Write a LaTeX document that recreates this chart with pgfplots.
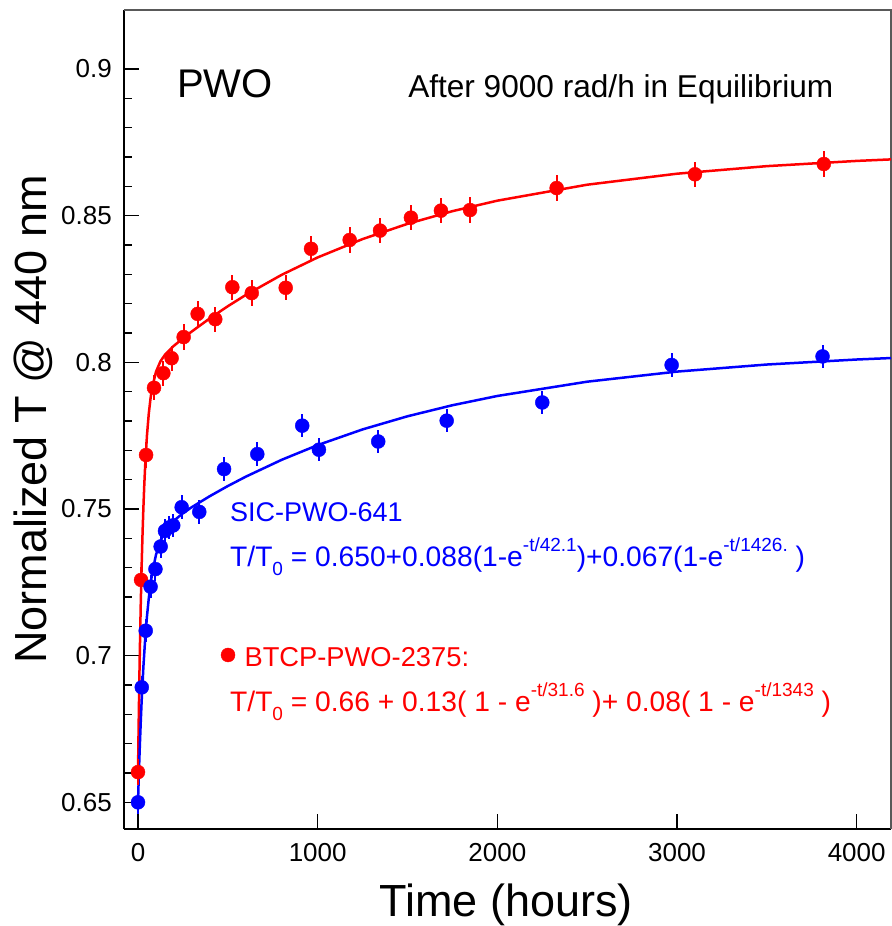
\documentclass[border=0pt]{standalone}
\usepackage{fontspec}
\setmainfont{Liberation Sans}
\usepackage{pgfplots}
\pgfplotsset{compat=1.18}
\newcommand\fs[1]{\fontsize{#1bp}{#1bp}\selectfont}
\newcommand\sups[1]{\raisebox{0.55em}{\fontsize{19bp}{19bp}\selectfont #1}}
\newcommand\subs[1]{\raisebox{-0.3em}{\fontsize{19bp}{19bp}\selectfont #1}}
\begin{document}
\begin{tikzpicture}
\begin{axis}[
  name=ax, scale only axis, width=767bp, height=819bp,
  xmin=-78, xmax=4191, ymin=0.6409, ymax=0.9201,
  axis lines*=left, axis line style={-, line width=1.5bp, black},
  tick align=inside, major tick length=15bp, minor tick length=8bp,
  every tick/.style={black, line width=1.3bp},
  xtick={0,1000,2000,3000,4000},
  ytick={0.65,0.7,0.75,0.8,0.85,0.9},
  yticklabels={0.65,0.7,0.75,0.8,0.85,0.9},
  minor y tick num=4,
  scaled x ticks=false, scaled y ticks=false,
  /pgf/number format/1000 sep={},
  /pgf/number format/assume math mode=true,
  ticklabel style={font=\fs{26}},
  yticklabel style={inner sep=0pt, xshift=-12bp},
  xticklabel style={inner sep=0pt, yshift=-14bp},
  clip mode=individual,
]
% top and right frame
\draw[gray!70!black, line width=1.5bp] (rel axis cs:0,1) -- (rel axis cs:1,1) -- (rel axis cs:1,0);

% fit curves
\addplot[red, line width=2.5bp, no marks] coordinates {
(0,0.66000)(2.5,0.67168)(5,0.68237)(7.5,0.69215)(10,0.70112)(15,0.71685)(20,0.73006)(25,0.74115)(30,0.75048)(35,0.75832)(40,0.76492)(50,0.77520)(60,0.78255)(70,0.78786)(80,0.79173)(100,0.79677)(125,0.80034)(150,0.80256)(200,0.80563)(250,0.80816)(300,0.81053)(400,0.81499)(500,0.81912)(600,0.82296)(800,0.82983)(1000,0.83575)(1250,0.84201)(1500,0.84720)(1750,0.85152)(2000,0.85510)(2500,0.86054)(3000,0.86429)(3500,0.86687)(4000,0.86865)(4191,0.86917)
};
\addplot[blue, line width=2.5bp, no marks] coordinates {
(0,0.65000)(2.5,0.65519)(5,0.66009)(7.5,0.66471)(10,0.66907)(15,0.67708)(20,0.68421)(30,0.69624)(40,0.70582)(50,0.71347)(60,0.71960)(70,0.72452)(80,0.72850)(100,0.73436)(125,0.73910)(150,0.74219)(200,0.74601)(250,0.74854)(300,0.75064)(400,0.75438)(500,0.75782)(600,0.76101)(800,0.76677)(1000,0.77177)(1250,0.77712)(1500,0.78160)(1750,0.78536)(2000,0.78852)(2500,0.79339)(3000,0.79683)(3500,0.79924)(4000,0.80095)(4191,0.80145)
};

% data points
\addplot[only marks, mark=*, red, mark size=7bp,
  error bars/.cd, y dir=both, y fixed=0.0043, error mark=none,
  error bar style={line width=2bp, red}] coordinates {
(0,0.6603)(17,0.7258)(45,0.7684)(89,0.7913)(141,0.7963)(187,0.8014)(254,0.8086)(332,0.8165)(430,0.8147)(525,0.8256)(633,0.8236)(822,0.8254)(963,0.8387)(1178,0.8417)(1347,0.8449)(1519,0.8493)(1686,0.8517)(1848,0.8519)(2330,0.8594)(3100,0.8641)(3817,0.8676)
};
\addplot[only marks, mark=*, blue, mark size=7bp,
  error bars/.cd, y dir=both, y fixed=0.0040, error mark=none,
  error bar style={line width=2bp, blue}] coordinates {
(0,0.6500)(21,0.6892)(43,0.7085)(70,0.7235)(97,0.7295)(126,0.7372)(150,0.7425)(173,0.7437)(196,0.7444)(243,0.7506)(341,0.7490)(479,0.7636)(664,0.7687)(914,0.7784)(1007,0.7702)(1337,0.7730)(1718,0.7801)(2250,0.7863)(2970,0.7991)(3810,0.8020)
};
% legend bullet
\addplot[only marks, mark=*, red, mark size=7bp, forget plot] coordinates {(501,0.70022)};

% texts
\node[anchor=base west, inner sep=0pt, font=\fs{40}] at (axis cs:217,0.89012) {PWO};
\node[anchor=base west, inner sep=0pt, font=\fs{31.6}] at (axis cs:1503,0.89012) {After 9000 rad/h in Equilibrium};
\node[anchor=base west, inner sep=0pt, font=\fs{27}, text=blue] at (axis cs:512,0.74567) {SIC-PWO-641};
\node[anchor=base west, inner sep=0pt, font=\fs{28.2}, text=blue] at (axis cs:512,0.73032) {T/T\subs{0} = 0.650+0.088(1-e\sups{-t/42.1})+0.067(1-e\sups{-t/1426.} )};
\node[anchor=base west, inner sep=0pt, font=\fs{27.3}, text=red] at (axis cs:592,0.69623) {BTCP-PWO-2375:};
\node[anchor=base west, inner sep=0pt, font=\fs{28.2}, text=red] at (axis cs:512,0.68089) {T/T\subs{0} = 0.66 + 0.13( 1 - e\sups{-t/31.6} )+ 0.08( 1 - e\sups{-t/1343} )};

% axis labels
\node[rotate=90, anchor=base, inner sep=0pt, font=\fs{45}] at (rel axis cs:-0.1004,0.5) {Normalized T @ 440 nm};
\node[anchor=base, inner sep=0pt, font=\fs{45}] at (rel axis cs:0.4985,-0.1071) {Time (hours)};
\end{axis}
\pgfresetboundingbox
\path[use as bounding box] ([shift={(-124bp,-97bp)}]ax.south west) rectangle ([shift={(1bp,10bp)}]ax.north east);
\end{tikzpicture}
\end{document}
